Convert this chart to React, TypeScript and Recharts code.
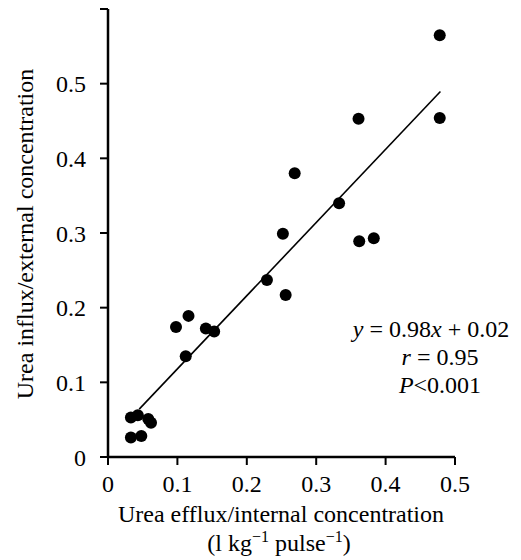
import React from "react";
import {
  ScatterChart,
  Scatter,
  XAxis,
  YAxis,
  ReferenceLine,
  Customized,
} from "recharts";

// urea efflux / internal concentration (x) vs influx / external concentration (y)
const effluxRatio = [
  0.033, 0.043, 0.033, 0.048, 0.058, 0.062, 0.098, 0.116, 0.112, 0.141, 0.153,
  0.478, 0.361, 0.478, 0.269, 0.333, 0.252, 0.362, 0.383, 0.229, 0.256,
];
const influxRatio = [
  0.053, 0.056, 0.026, 0.028, 0.051, 0.046, 0.174, 0.189, 0.135, 0.172, 0.168,
  0.565, 0.453, 0.454, 0.38, 0.34, 0.299, 0.289, 0.293, 0.237, 0.217,
];

const xTicks = [0, 0.1, 0.2, 0.3, 0.4, 0.5];
const yTicks = [0, 0.1, 0.2, 0.3, 0.4, 0.5, 0.6];

// regression: y = 0.98x + 0.02
const fitSlope = 0.98;
const fitIntercept = 0.02;
const fitRange = [0.045, 0.479];

const points = effluxRatio.map((x, i) => ({ x, y: influxRatio[i] }));
const fitSegment = fitRange.map((x) => ({ x, y: fitSlope * x + fitIntercept }));

const FONT = "'Liberation Serif', 'Times New Roman', serif";

const fmt = (v: number) => (v === 0 ? "0" : v >= 0.6 ? "" : v.toFixed(1));

const Dot = (props: any) => {
  const { cx, cy } = props;
  return <circle cx={cx} cy={cy} r={6} fill="#000" />;
};

const Annotations = () => (
  <g fontFamily={FONT} fontSize={24} fill="#000">
    <text x={431} y={337} textAnchor="middle">
      <tspan fontStyle="italic">y</tspan> = 0.98<tspan fontStyle="italic">x</tspan> + 0.02
    </text>
    <text x={440} y={365} textAnchor="middle">
      <tspan fontStyle="italic">r</tspan> = 0.95
    </text>
    <text x={440} y={393} textAnchor="middle">
      <tspan fontStyle="italic">P</tspan>&lt;0.001
    </text>
    <text x={281} y={522} textAnchor="middle">
      Urea efflux/internal concentration
    </text>
    <text x={279} y={551} textAnchor="middle">
      (l kg<tspan fontSize={16} dy={-9}>−1</tspan>
      <tspan dy={9}> pulse</tspan>
      <tspan fontSize={16} dy={-9}>−1</tspan>
      <tspan dy={9}>)</tspan>
    </text>
    <text
      x={0}
      y={0}
      textAnchor="middle"
      transform="translate(33, 234) rotate(-90)"
    >
      Urea influx/external concentration
    </text>
  </g>
);

export default function App() {
  return (
    <div style={{ position: "absolute", left: 0, top: 0, background: "#fff" }}>
      <ScatterChart
        width={521}
        height={560}
        margin={{ top: 9, right: 66, bottom: 0, left: 0 }}
      >
        <XAxis
          type="number"
          dataKey="x"
          domain={[0, 0.5]}
          ticks={xTicks}
          tickFormatter={fmt}
          height={103}
          axisLine={{ stroke: "#000", strokeWidth: 2.5 }}
          tickLine={{ stroke: "#000", strokeWidth: 2 }}
          tickSize={8}
          tickMargin={10}
          tick={{ fill: "#000", fontSize: 24, fontFamily: FONT }}
          allowDataOverflow
        />
        <YAxis
          type="number"
          dataKey="y"
          domain={[0, 0.6]}
          ticks={yTicks}
          tickFormatter={fmt}
          width={108}
          axisLine={{ stroke: "#000", strokeWidth: 2.5 }}
          tickLine={{ stroke: "#000", strokeWidth: 2 }}
          tickSize={8}
          tickMargin={14}
          tick={{ fill: "#000", fontSize: 24, fontFamily: FONT }}
          allowDataOverflow
        />
        <ReferenceLine
          segment={fitSegment}
          stroke="#000"
          strokeWidth={1.6}
          ifOverflow="visible"
        />
        <Scatter
          data={points}
          fill="#000"
          shape={<Dot />}
          isAnimationActive={false}
        />
        <Customized component={Annotations} />
      </ScatterChart>
    </div>
  );
}
